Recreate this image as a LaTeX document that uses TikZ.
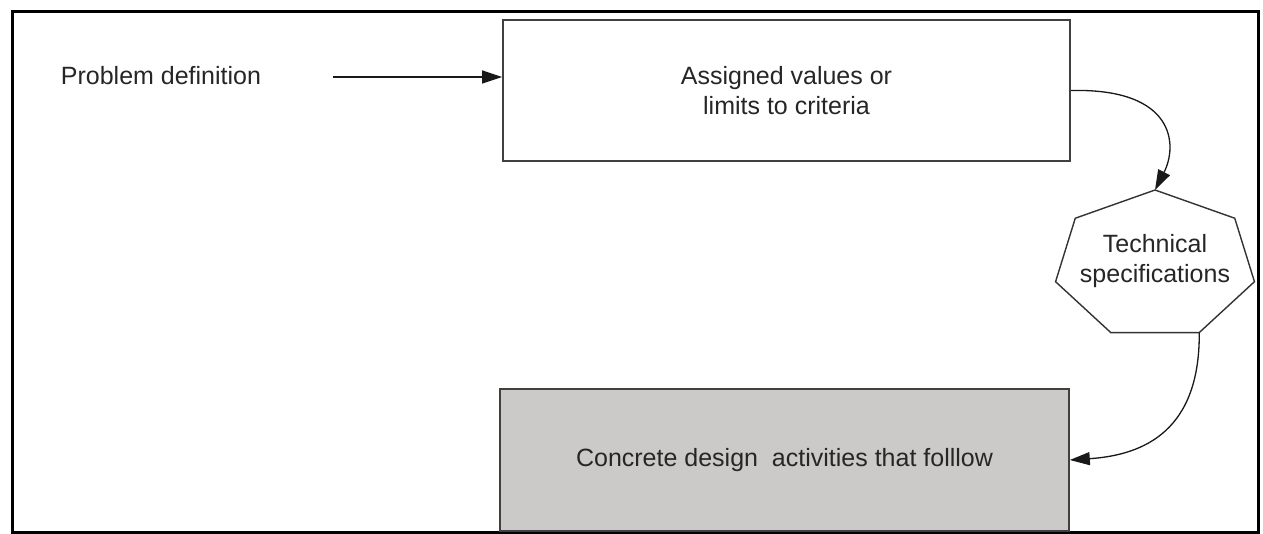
\documentclass[tikz,border=0pt]{standalone}
\usepackage{fontspec}
\setmainfont{Liberation Sans}
\usetikzlibrary{arrows.meta}
\definecolor{boxgray}{RGB}{204,202,200}
\begin{document}
\begin{tikzpicture}[x=1pt,y=-1pt,
  lbl/.style={font=\fontsize{25}{30}\selectfont, align=center, text=black!85},
  box/.style={draw=black!75, line width=1.6pt, inner sep=0pt},
  conn/.style={line width=1.3pt, draw=black!90, -{Triangle[length=20pt,width=13pt]}},
]
\useasboundingbox (0,0) rectangle (1263,534);
\fill[white] (0,0) rectangle (1263,534);
\draw[line width=3pt] (12,12) rectangle (1258,532);

% nodes
\node[lbl, anchor=center] (prob) at (161,76) {Problem definition};
\node[box, lbl, minimum width=567pt, minimum height=141pt] (box1) at (786.5,90.5)
  {Assigned values or\\limits to criteria};
\node[box, lbl, fill=boxgray, minimum width=569pt, minimum height=142pt] (gray) at (784.5,460)
  {Concrete design\ \ activities that folllow};

% heptagon
\foreach \k in {0,...,6}
  \coordinate (h\k) at ({1155+102*cos(90+\k*360/7)}, {265-75*sin(90+\k*360/7)});
\draw[draw=black!80, line width=1.4pt] (h0) -- (h1) -- (h2) -- (h3) -- (h4) -- (h5) -- (h6) -- cycle;
\node[lbl] (tech) at (1155,261) {Technical\\specifications};

% connectors
\coordinate (pstart) at (333,77);
\draw[conn] (pstart) -- (pstart -| box1.west);
\draw[conn] (box1.east) .. controls (1175,88) and (1178,145) .. (h0);
\draw[conn] (h4) .. controls (1200,430) and (1145,455) .. (gray.east);
\end{tikzpicture}
\end{document}
